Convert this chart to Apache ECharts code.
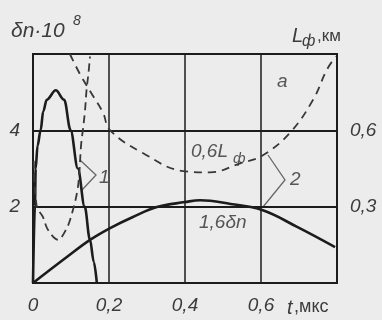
<!DOCTYPE html>
<html><head><meta charset="utf-8">
<script src="https://cdn.jsdelivr.net/npm/echarts@6/dist/echarts.min.js"></script>
<style>html,body{margin:0;padding:0;background:#ececec;}#c{width:382px;height:320px;}</style>
</head><body><div id="c"></div>
<script>
// δn (curve 1, solid), left axis units (×10^8)
const dn1 = [[0,0],[0.005,2.0],[0.007,3.0],[0.012,3.6],[0.02,4.0],[0.027,4.5],[0.036,4.8],[0.06,5.05],[0.082,4.8],[0.099,4.0],[0.118,3.0],[0.136,2.0],[0.15,1.13],[0.16,0.55],[0.168,0]];
// Lф (curve 1, dashed), right axis units (km)
const lf1 = [[0.002,0.48],[0.01,0.30],[0.026,0.26],[0.039,0.21],[0.066,0.17],[0.087,0.21],[0.1,0.26],[0.118,0.375],[0.127,0.55],[0.132,0.61],[0.137,0.68],[0.141,0.76],[0.146,0.825],[0.15,0.89]];
// 1,6δn (curve 2, solid), left axis units
const dn2 = [[0,0],[0.089,0.68],[0.15,1.13],[0.203,1.44],[0.263,1.73],[0.326,1.99],[0.4,2.12],[0.44,2.17],[0.52,2.07],[0.603,1.91],[0.695,1.47],[0.795,0.94]];
// 0,6Lф (curve 2, dashed), right axis units
const lf2 = [[0.097,0.9],[0.124,0.82],[0.154,0.745],[0.184,0.67],[0.203,0.6],[0.29,0.51],[0.395,0.44],[0.466,0.435],[0.545,0.47],[0.603,0.5],[0.676,0.59],[0.737,0.72],[0.774,0.84],[0.797,0.89]];
const xTicks = {0:'0',0.2:'0,2',0.4:'0,4',0.6:'0,6'};
const yLeftTicks = {2:'2',4:'4'};
const yRightTicks = {0.3:'0,3',0.6:'0,6'};

const FONT = '"Liberation Sans", sans-serif';
const TXT = '#3c3c3c';
const LINE = '#1c1c1c';
const chart = echarts.init(document.getElementById('c'), null, {renderer:'canvas'});
function fmt(map){return function(v){const k=Math.round(v*10)/10; return map[k]!==undefined?map[k]:'';};}
const lab = {color:TXT, fontFamily:FONT, fontStyle:'italic', fontSize:19};
chart.setOption({
  backgroundColor:'#ececec',
  animation:false,
  grid:{left:33,right:45,top:54,bottom:37,show:true,borderColor:LINE,borderWidth:2,backgroundColor:'transparent'},
  xAxis:{type:'value',min:0,max:0.8,interval:0.2,
    axisLine:{show:true,lineStyle:{color:LINE,width:2}},axisTick:{show:false},
    splitLine:{show:true,lineStyle:{color:LINE,width:1.5}},
    axisLabel:Object.assign({margin:13,formatter:fmt(xTicks)},lab)},
  yAxis:[
    {type:'value',min:0,max:6,interval:2,
      axisLine:{show:true,lineStyle:{color:LINE,width:2}},axisTick:{show:false},
      splitLine:{show:true,lineStyle:{color:LINE,width:2}},
      axisLabel:Object.assign({margin:13,formatter:function(v){return yLeftTicks[v]||'';}},lab)},
    {type:'value',min:0,max:0.9,interval:0.3,position:'right',
      axisLine:{show:false},axisTick:{show:false},splitLine:{show:false},
      axisLabel:Object.assign({margin:13,formatter:fmt(yRightTicks)},lab)}
  ],
  series:[
    {type:'line',data:dn1,yAxisIndex:0,smooth:0.35,smoothMonotone:'x',showSymbol:false,lineStyle:{color:LINE,width:2.6}},
    {type:'line',data:lf1,yAxisIndex:1,smooth:0.35,showSymbol:false,lineStyle:{color:'#383838',width:1.8,type:[8,5]}},
    {type:'line',data:dn2,yAxisIndex:0,smooth:0.4,showSymbol:false,lineStyle:{color:LINE,width:2.6}},
    {type:'line',data:lf2,yAxisIndex:1,smooth:0.4,showSymbol:false,lineStyle:{color:'#383838',width:1.8,type:[8,6]}}
  ],
  graphic:[
    {type:'text',left:11,top:21,style:{text:'δn·10',font:'italic 21px '+FONT,fill:TXT}},
    {type:'text',left:73,top:14,style:{text:'8',font:'italic 14px '+FONT,fill:TXT}},
    {type:'text',left:292,top:26,style:{text:'L',font:'italic 20px '+FONT,fill:TXT}},
    {type:'text',left:302,top:34,style:{text:'ф',font:'italic 16px '+FONT,fill:TXT}},
    {type:'text',left:317,top:28,style:{text:',км',font:'17px '+FONT,fill:TXT}},
    {type:'text',left:287,top:298,style:{text:'t',font:'italic 20px '+FONT,fill:TXT}},
    {type:'text',left:294,top:298,style:{text:',мкс',font:'18px '+FONT,fill:TXT}},
    {type:'text',left:277,top:72,style:{text:'a',font:'italic 19px '+FONT,fill:'#555'}},
    {type:'text',left:191,top:142,style:{text:'0,6L',font:'italic 19px '+FONT,fill:'#555'}},
    {type:'text',left:233,top:151,style:{text:'ф',font:'italic 15px '+FONT,fill:'#555'}},
    {type:'text',left:199,top:213,style:{text:'1,6δn',font:'italic 19px '+FONT,fill:'#555'}},
    {type:'text',left:290,top:170,style:{text:'2',font:'italic 19px '+FONT,fill:'#555'}},
    {type:'text',left:99,top:168,style:{text:'1',font:'italic 19px '+FONT,fill:'#555'}},
    {type:'polyline',shape:{points:[[80,160],[96,175],[82,190]]},style:{stroke:'#666',lineWidth:1.3,fill:null}},
    {type:'polyline',shape:{points:[[268,155],[285,180],[263,207]]},style:{stroke:'#666',lineWidth:1.3,fill:null}}
  ]
});
</script></body></html>
